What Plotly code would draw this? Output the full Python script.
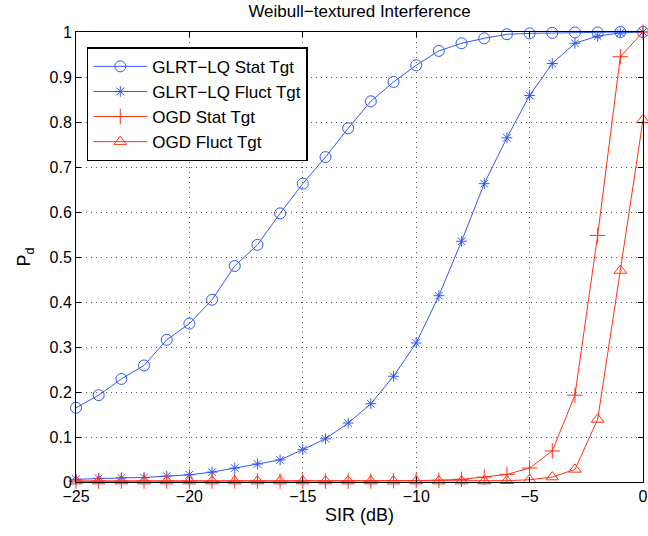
import plotly.graph_objects as go

sir_db = list(range(-25, 1))

glrt_stat = [0.165, 0.193, 0.229, 0.259, 0.316, 0.352, 0.405, 0.480, 0.527, 0.597,
             0.663, 0.722, 0.786, 0.846, 0.889, 0.926, 0.958, 0.975, 0.986, 0.995,
             0.997, 0.998, 0.999, 0.999, 1.000, 1.000]
glrt_fluct = [0.006, 0.008, 0.009, 0.010, 0.013, 0.016, 0.022, 0.031, 0.040, 0.049,
              0.072, 0.096, 0.131, 0.174, 0.235, 0.309, 0.414, 0.535, 0.663, 0.765,
              0.859, 0.930, 0.975, 0.991, 0.998, 1.000]
ogd_stat = [0.002, 0.002, 0.002, 0.002, 0.002, 0.002, 0.002, 0.002, 0.002, 0.002,
            0.002, 0.002, 0.002, 0.002, 0.003, 0.003, 0.004, 0.006, 0.011, 0.017,
            0.031, 0.069, 0.193, 0.548, 0.945, 1.000]
ogd_fluct = [0.002, 0.002, 0.002, 0.002, 0.002, 0.002, 0.002, 0.002, 0.002, 0.002,
             0.002, 0.002, 0.002, 0.002, 0.002, 0.002, 0.002, 0.002, 0.002, 0.003,
             0.005, 0.011, 0.028, 0.139, 0.470, 0.805]

names = ["GLRT\u2212LQ Stat Tgt", "GLRT\u2212LQ Fluct Tgt", "OGD Stat Tgt", "OGD Fluct Tgt"]
x_ticks = [-25, -20, -15, -10, -5, 0]
y_ticks = [0, 0.1, 0.2, 0.3, 0.4, 0.5, 0.6, 0.7, 0.8, 0.9, 1]

BLUE = "#3058f6"
RED = "#ff3212"
FONT = "Liberation Sans, Arial, Helvetica, sans-serif"

series = [
    (glrt_stat, names[0], BLUE, "circle-open", 11),
    (glrt_fluct, names[1], BLUE, "asterisk-open", 9),
    (ogd_stat, names[2], RED, "cross-thin-open", 11),
    (ogd_fluct, names[3], RED, "triangle-up-open", 11),
]

fig = go.Figure()
for ys, nm, col, sym, sz in series:
    fig.add_trace(go.Scatter(
        x=sir_db, y=ys, name=nm, mode="lines+markers",
        line=dict(color=col, width=1),
        marker=dict(symbol=sym, size=sz, color=col, line=dict(color=col, width=1)),
        cliponaxis=False,
    ))

axis_common = dict(
    showline=True, linecolor="black", linewidth=1, mirror="ticks",
    ticks="inside", ticklen=5, tickcolor="black",
    showgrid=True, gridcolor="#555555", griddash="1px,4px", gridwidth=1,
    zeroline=False,
    tickfont=dict(family=FONT, size=16, color="black"),
)

fig.update_layout(
    width=648, height=536,
    margin=dict(l=76, r=5, t=32, b=54, autoexpand=False),
    paper_bgcolor="white", plot_bgcolor="white",
    font=dict(family=FONT, size=16, color="black"),
    title=dict(text="Weibull\u2212textured Interference", x=0.5, xref="paper",
               xanchor="center", yref="container", y=0.979, yanchor="middle",
               font=dict(size=17, color="black")),
    xaxis=dict(range=[-25, 0], tickvals=x_ticks,
               title=dict(text="SIR (dB)", standoff=4, font=dict(size=18)),
               **axis_common),
    yaxis=dict(range=[0, 1], tickvals=y_ticks,
               ticktext=[("%g" % v) for v in y_ticks],
               title=dict(text="P<sub>d</sub>", standoff=14, font=dict(size=18)),
               **axis_common),
    legend=dict(x=0.019, y=0.966, xanchor="left", yanchor="top",
                bgcolor="white", bordercolor="black", borderwidth=1.5,
                font=dict(family=FONT, size=17, color="black"), tracegroupgap=0,
                itemwidth=54),
    showlegend=True,
)

fig.write_html(
    "out.html",
    config={"displayModeBar": False},
    post_script="document.body.style.margin='0';document.body.style.overflow='hidden';",
)
